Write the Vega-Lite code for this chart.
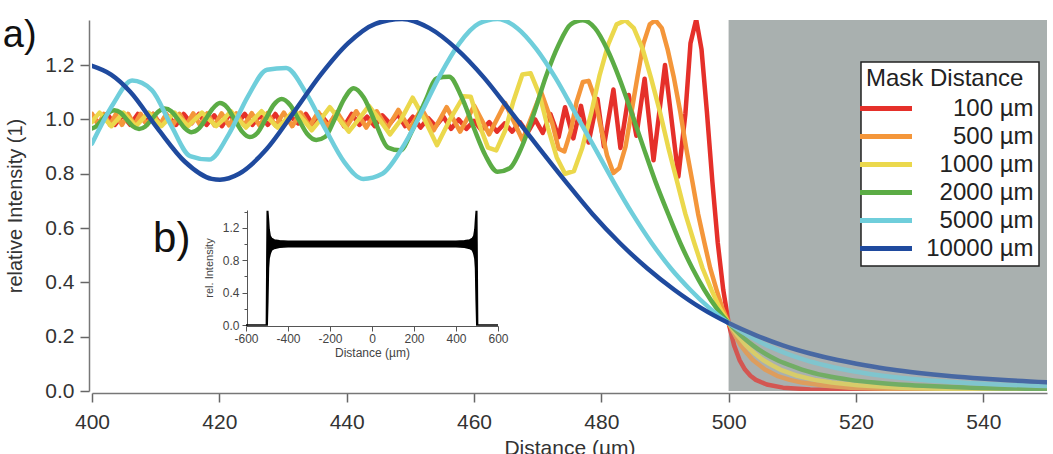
{
  "$schema": "https://vega.github.io/schema/vega-lite/v6.json",
  "width": 955,
  "height": 371,
  "autosize": {"type": "none"},
  "padding": {"left": 92, "top": 20, "right": 6, "bottom": 63},
  "background": "white",
  "datasets": {
    "mask": [{"start": 500, "end": 550}],
    "curves": [
      {"mask":"100 µm","dist":400,"int":1.01},{"mask":"100 µm","dist":401.2,"int":0.985},{"mask":"100 µm","dist":402.4,"int":1.02},{"mask":"100 µm","dist":403.6,"int":0.98},{"mask":"100 µm","dist":404.8,"int":1.015},{"mask":"100 µm","dist":406,"int":0.98},{"mask":"100 µm","dist":407.2,"int":1.02},{"mask":"100 µm","dist":408.4,"int":0.99},{"mask":"100 µm","dist":409.6,"int":1.02},{"mask":"100 µm","dist":410.8,"int":0.98},{"mask":"100 µm","dist":412,"int":1.01},{"mask":"100 µm","dist":413.2,"int":0.98},{"mask":"100 µm","dist":414.4,"int":1.02},{"mask":"100 µm","dist":415.6,"int":0.985},{"mask":"100 µm","dist":416.8,"int":1.02},{"mask":"100 µm","dist":418,"int":0.98},{"mask":"100 µm","dist":419.2,"int":1.015},{"mask":"100 µm","dist":420.4,"int":0.975},{"mask":"100 µm","dist":421.6,"int":1.02},{"mask":"100 µm","dist":422.8,"int":0.985},{"mask":"100 µm","dist":424,"int":1.02},{"mask":"100 µm","dist":425.2,"int":0.98},{"mask":"100 µm","dist":426.4,"int":1.015},{"mask":"100 µm","dist":427.6,"int":0.98},{"mask":"100 µm","dist":428.8,"int":1.02},{"mask":"100 µm","dist":430,"int":0.975},{"mask":"100 µm","dist":431.2,"int":1.01},{"mask":"100 µm","dist":432.4,"int":0.985},{"mask":"100 µm","dist":433.6,"int":1.02},{"mask":"100 µm","dist":434.8,"int":0.975},{"mask":"100 µm","dist":436,"int":1.015},{"mask":"100 µm","dist":437.2,"int":0.98},{"mask":"100 µm","dist":438.4,"int":1.02},{"mask":"100 µm","dist":439.6,"int":0.975},{"mask":"100 µm","dist":440.8,"int":1.02},{"mask":"100 µm","dist":442,"int":0.98},{"mask":"100 µm","dist":443.2,"int":1.01},{"mask":"100 µm","dist":444.4,"int":0.975},{"mask":"100 µm","dist":445.6,"int":1.015},{"mask":"100 µm","dist":446.8,"int":0.985},{"mask":"100 µm","dist":448,"int":1.02},{"mask":"100 µm","dist":449.2,"int":0.975},{"mask":"100 µm","dist":450.4,"int":1.01},{"mask":"100 µm","dist":451.6,"int":0.97},{"mask":"100 µm","dist":452.8,"int":1.005},{"mask":"100 µm","dist":454,"int":0.975},{"mask":"100 µm","dist":455.2,"int":1.01},{"mask":"100 µm","dist":456.4,"int":0.965},{"mask":"100 µm","dist":457.6,"int":1.0},{"mask":"100 µm","dist":458.8,"int":0.965},{"mask":"100 µm","dist":460,"int":0.995},{"mask":"100 µm","dist":461.2,"int":0.96},{"mask":"100 µm","dist":462.4,"int":0.99},{"mask":"100 µm","dist":463.6,"int":0.955},{"mask":"100 µm","dist":464.8,"int":0.985},{"mask":"100 µm","dist":466,"int":0.955},{"mask":"100 µm","dist":467.2,"int":0.99},{"mask":"100 µm","dist":468.4,"int":0.95},{"mask":"100 µm","dist":469.6,"int":1.0},{"mask":"100 µm","dist":470.8,"int":0.95},{"mask":"100 µm","dist":472,"int":1.02},{"mask":"100 µm","dist":473.3,"int":0.935},{"mask":"100 µm","dist":474.3,"int":1.045},{"mask":"100 µm","dist":475.6,"int":0.93},{"mask":"100 µm","dist":476.8,"int":1.05},{"mask":"100 µm","dist":478,"int":0.915},{"mask":"100 µm","dist":479.4,"int":1.075},{"mask":"100 µm","dist":480.4,"int":0.9},{"mask":"100 µm","dist":481.9,"int":1.11},{"mask":"100 µm","dist":483,"int":0.895},{"mask":"100 µm","dist":484.3,"int":1.09},{"mask":"100 µm","dist":485.5,"int":0.94},{"mask":"100 µm","dist":486.8,"int":1.15},{"mask":"100 µm","dist":488.2,"int":0.85},{"mask":"100 µm","dist":490,"int":1.2},{"mask":"100 µm","dist":492.1,"int":0.79},{"mask":"100 µm","dist":493.2,"int":1.02},{"mask":"100 µm","dist":494,"int":1.28},{"mask":"100 µm","dist":494.9,"int":1.368},{"mask":"100 µm","dist":495.73,"int":1.259},{"mask":"100 µm","dist":496.58,"int":1.028},{"mask":"100 µm","dist":497.44,"int":0.771},{"mask":"100 µm","dist":498.29,"int":0.545},{"mask":"100 µm","dist":499.15,"int":0.372},{"mask":"100 µm","dist":500,"int":0.25},{"mask":"100 µm","dist":500.85,"int":0.168},{"mask":"100 µm","dist":501.71,"int":0.114},{"mask":"100 µm","dist":502.56,"int":0.079},{"mask":"100 µm","dist":503.42,"int":0.056},{"mask":"100 µm","dist":504.27,"int":0.041},{"mask":"100 µm","dist":505.98,"int":0.024},{"mask":"100 µm","dist":508.54,"int":0.0123},{"mask":"100 µm","dist":512.82,"int":0.0056},{"mask":"100 µm","dist":517.09,"int":0.0032},{"mask":"100 µm","dist":525.6,"int":0.0014},{"mask":"100 µm","dist":550,"int":0.0004},

      {"mask":"500 µm","dist":400,"int":1.02},{"mask":"500 µm","dist":400.96,"int":0.98},{"mask":"500 µm","dist":401.88,"int":1.02},{"mask":"500 µm","dist":402.82,"int":0.98},{"mask":"500 µm","dist":403.76,"int":1.02},{"mask":"500 µm","dist":404.71,"int":0.98},{"mask":"500 µm","dist":405.68,"int":1.02},{"mask":"500 µm","dist":406.65,"int":0.98},{"mask":"500 µm","dist":407.63,"int":1.02},{"mask":"500 µm","dist":408.62,"int":0.98},{"mask":"500 µm","dist":409.63,"int":1.02},{"mask":"500 µm","dist":410.64,"int":0.98},{"mask":"500 µm","dist":411.67,"int":1.02},{"mask":"500 µm","dist":412.71,"int":0.98},{"mask":"500 µm","dist":413.76,"int":1.02},{"mask":"500 µm","dist":414.83,"int":0.98},{"mask":"500 µm","dist":415.9,"int":1.022},{"mask":"500 µm","dist":417,"int":0.978},{"mask":"500 µm","dist":418.1,"int":1.022},{"mask":"500 µm","dist":419.23,"int":0.978},{"mask":"500 µm","dist":420.36,"int":1.022},{"mask":"500 µm","dist":421.52,"int":0.978},{"mask":"500 µm","dist":422.69,"int":1.022},{"mask":"500 µm","dist":423.88,"int":0.978},{"mask":"500 µm","dist":425.09,"int":1.023},{"mask":"500 µm","dist":426.32,"int":0.977},{"mask":"500 µm","dist":427.56,"int":1.023},{"mask":"500 µm","dist":428.84,"int":0.977},{"mask":"500 µm","dist":430.13,"int":1.025},{"mask":"500 µm","dist":431.45,"int":0.975},{"mask":"500 µm","dist":432.79,"int":1.025},{"mask":"500 µm","dist":434.16,"int":0.975},{"mask":"500 µm","dist":435.56,"int":1.027},{"mask":"500 µm","dist":437,"int":0.973},{"mask":"500 µm","dist":438.46,"int":1.027},{"mask":"500 µm","dist":439.96,"int":0.972},{"mask":"500 µm","dist":441.5,"int":1.03},{"mask":"500 µm","dist":443.08,"int":0.97},{"mask":"500 µm","dist":444.71,"int":1.03},{"mask":"500 µm","dist":446.39,"int":0.967},{"mask":"500 µm","dist":448.12,"int":1.035},{"mask":"500 µm","dist":449.91,"int":0.965},{"mask":"500 µm","dist":451.76,"int":1.04},{"mask":"500 µm","dist":453.69,"int":0.96},{"mask":"500 µm","dist":455.71,"int":1.045},{"mask":"500 µm","dist":457.82,"int":0.955},{"mask":"500 µm","dist":460.04,"int":1.05},{"mask":"500 µm","dist":462.39,"int":0.945},{"mask":"500 µm","dist":464.9,"int":1.06},{"mask":"500 µm","dist":467.61,"int":0.924},{"mask":"500 µm","dist":470.56,"int":1.1},{"mask":"500 µm","dist":472.3,"int":0.985},{"mask":"500 µm","dist":473.3,"int":0.892},{"mask":"500 µm","dist":474.2,"int":0.882},{"mask":"500 µm","dist":475.2,"int":0.957},{"mask":"500 µm","dist":476.1,"int":1.063},{"mask":"500 µm","dist":477.1,"int":1.138},{"mask":"500 µm","dist":478,"int":1.142},{"mask":"500 µm","dist":479,"int":1.077},{"mask":"500 µm","dist":479.9,"int":0.974},{"mask":"500 µm","dist":480.9,"int":0.867},{"mask":"500 µm","dist":481.9,"int":0.803},{"mask":"500 µm","dist":482.8,"int":0.82},{"mask":"500 µm","dist":483.8,"int":0.9},{"mask":"500 µm","dist":484.7,"int":1.022},{"mask":"500 µm","dist":485.7,"int":1.16},{"mask":"500 µm","dist":486.6,"int":1.278},{"mask":"500 µm","dist":487.6,"int":1.35},{"mask":"500 µm","dist":488.5,"int":1.365},{"mask":"500 µm","dist":489.5,"int":1.336},{"mask":"500 µm","dist":490.4,"int":1.259},{"mask":"500 µm","dist":491.4,"int":1.153},{"mask":"500 µm","dist":492.4,"int":1.028},{"mask":"500 µm","dist":493.3,"int":0.898},{"mask":"500 µm","dist":494.3,"int":0.771},{"mask":"500 µm","dist":495.2,"int":0.652},{"mask":"500 µm","dist":496.2,"int":0.545},{"mask":"500 µm","dist":497.1,"int":0.452},{"mask":"500 µm","dist":498.1,"int":0.372},{"mask":"500 µm","dist":499,"int":0.305},{"mask":"500 µm","dist":500,"int":0.25},{"mask":"500 µm","dist":501,"int":0.205},{"mask":"500 µm","dist":501.9,"int":0.168},{"mask":"500 µm","dist":502.9,"int":0.138},{"mask":"500 µm","dist":503.8,"int":0.114},{"mask":"500 µm","dist":505.7,"int":0.079},{"mask":"500 µm","dist":507.6,"int":0.056},{"mask":"500 µm","dist":509.6,"int":0.041},{"mask":"500 µm","dist":511.5,"int":0.031},{"mask":"500 µm","dist":515.3,"int":0.019},{"mask":"500 µm","dist":519.1,"int":0.0123},{"mask":"500 µm","dist":528.7,"int":0.0056},{"mask":"500 µm","dist":538.2,"int":0.0032},{"mask":"500 µm","dist":550,"int":0.0019},

      {"mask":"1000 µm","dist":400,"int":0.99},{"mask":"1000 µm","dist":400.27,"int":1.0},{"mask":"1000 µm","dist":401.19,"int":1.025},{"mask":"1000 µm","dist":402.12,"int":1.0},{"mask":"1000 µm","dist":403.05,"int":0.975},{"mask":"1000 µm","dist":404,"int":1.0},{"mask":"1000 µm","dist":404.95,"int":1.025},{"mask":"1000 µm","dist":405.92,"int":1.0},{"mask":"1000 µm","dist":406.89,"int":0.975},{"mask":"1000 µm","dist":407.88,"int":1.0},{"mask":"1000 µm","dist":408.88,"int":1.025},{"mask":"1000 µm","dist":409.88,"int":1.0},{"mask":"1000 µm","dist":410.9,"int":0.975},{"mask":"1000 µm","dist":411.93,"int":1.0},{"mask":"1000 µm","dist":412.97,"int":1.025},{"mask":"1000 µm","dist":414.03,"int":1.0},{"mask":"1000 µm","dist":415.1,"int":0.975},{"mask":"1000 µm","dist":416.18,"int":1.0},{"mask":"1000 µm","dist":417.27,"int":1.025},{"mask":"1000 µm","dist":418.38,"int":1.0},{"mask":"1000 µm","dist":419.51,"int":0.975},{"mask":"1000 µm","dist":420.65,"int":1.0},{"mask":"1000 µm","dist":421.81,"int":1.03},{"mask":"1000 µm","dist":422.99,"int":1.0},{"mask":"1000 µm","dist":424.18,"int":0.97},{"mask":"1000 µm","dist":425.39,"int":1.0},{"mask":"1000 µm","dist":426.63,"int":1.03},{"mask":"1000 µm","dist":427.88,"int":1.0},{"mask":"1000 µm","dist":429.16,"int":0.97},{"mask":"1000 µm","dist":430.46,"int":1.0},{"mask":"1000 µm","dist":431.78,"int":1.035},{"mask":"1000 µm","dist":433.13,"int":1.0},{"mask":"1000 µm","dist":434.51,"int":0.96},{"mask":"1000 µm","dist":435.92,"int":1.0},{"mask":"1000 µm","dist":437.36,"int":1.045},{"mask":"1000 µm","dist":438.83,"int":1.0},{"mask":"1000 µm","dist":440.34,"int":0.955},{"mask":"1000 µm","dist":441.89,"int":1.0},{"mask":"1000 µm","dist":443.49,"int":1.05},{"mask":"1000 µm","dist":445.13,"int":1.0},{"mask":"1000 µm","dist":446.81,"int":0.945},{"mask":"1000 µm","dist":448.56,"int":1.0},{"mask":"1000 µm","dist":450.36,"int":1.08},{"mask":"1000 µm","dist":452.24,"int":1.0},{"mask":"1000 µm","dist":454.19,"int":0.905},{"mask":"1000 µm","dist":456.23,"int":1.0},{"mask":"1000 µm","dist":458.36,"int":1.085},{"mask":"1000 µm","dist":459.5,"int":1.083},{"mask":"1000 µm","dist":460.8,"int":0.983},{"mask":"1000 µm","dist":462.2,"int":0.896},{"mask":"1000 µm","dist":463.5,"int":0.886},{"mask":"1000 µm","dist":464.9,"int":0.959},{"mask":"1000 µm","dist":466.2,"int":1.068},{"mask":"1000 µm","dist":467.6,"int":1.165},{"mask":"1000 µm","dist":468.9,"int":1.17},{"mask":"1000 µm","dist":470.3,"int":1.09},{"mask":"1000 µm","dist":471.6,"int":0.97},{"mask":"1000 µm","dist":473,"int":0.86},{"mask":"1000 µm","dist":474.3,"int":0.8},{"mask":"1000 µm","dist":475.7,"int":0.81},{"mask":"1000 µm","dist":477,"int":0.895},{"mask":"1000 µm","dist":478.4,"int":1.022},{"mask":"1000 µm","dist":479.7,"int":1.16},{"mask":"1000 µm","dist":481.1,"int":1.277},{"mask":"1000 µm","dist":482.4,"int":1.35},{"mask":"1000 µm","dist":483.8,"int":1.365},{"mask":"1000 µm","dist":485.1,"int":1.336},{"mask":"1000 µm","dist":486.5,"int":1.259},{"mask":"1000 µm","dist":487.8,"int":1.153},{"mask":"1000 µm","dist":489.2,"int":1.028},{"mask":"1000 µm","dist":490.5,"int":0.898},{"mask":"1000 µm","dist":491.9,"int":0.771},{"mask":"1000 µm","dist":493.2,"int":0.652},{"mask":"1000 µm","dist":494.6,"int":0.545},{"mask":"1000 µm","dist":495.9,"int":0.452},{"mask":"1000 µm","dist":497.3,"int":0.372},{"mask":"1000 µm","dist":498.6,"int":0.305},{"mask":"1000 µm","dist":500,"int":0.25},{"mask":"1000 µm","dist":501.4,"int":0.205},{"mask":"1000 µm","dist":502.7,"int":0.168},{"mask":"1000 µm","dist":504.1,"int":0.138},{"mask":"1000 µm","dist":505.4,"int":0.114},{"mask":"1000 µm","dist":506.8,"int":0.095},{"mask":"1000 µm","dist":508.1,"int":0.079},{"mask":"1000 µm","dist":510.8,"int":0.056},{"mask":"1000 µm","dist":513.5,"int":0.041},{"mask":"1000 µm","dist":516.2,"int":0.031},{"mask":"1000 µm","dist":520.3,"int":0.021},{"mask":"1000 µm","dist":527,"int":0.0123},{"mask":"1000 µm","dist":533.8,"int":0.0081},{"mask":"1000 µm","dist":540.5,"int":0.0056},{"mask":"1000 µm","dist":550,"int":0.0037},

      {"mask":"2000 µm","dist":400,"int":0.967},{"mask":"2000 µm","dist":400.73,"int":0.976},{"mask":"2000 µm","dist":401.65,"int":1.0},{"mask":"2000 µm","dist":402.58,"int":1.024},{"mask":"2000 µm","dist":403.52,"int":1.034},{"mask":"2000 µm","dist":404.48,"int":1.025},{"mask":"2000 µm","dist":405.44,"int":1.0},{"mask":"2000 µm","dist":406.41,"int":0.975},{"mask":"2000 µm","dist":407.39,"int":0.965},{"mask":"2000 µm","dist":408.38,"int":0.974},{"mask":"2000 µm","dist":409.38,"int":1.0},{"mask":"2000 µm","dist":410.39,"int":1.028},{"mask":"2000 µm","dist":411.41,"int":1.04},{"mask":"2000 µm","dist":412.45,"int":1.03},{"mask":"2000 µm","dist":413.5,"int":1.0},{"mask":"2000 µm","dist":414.56,"int":0.968},{"mask":"2000 µm","dist":415.63,"int":0.953},{"mask":"2000 µm","dist":416.72,"int":0.965},{"mask":"2000 µm","dist":417.83,"int":1.0},{"mask":"2000 µm","dist":418.94,"int":1.039},{"mask":"2000 µm","dist":420.08,"int":1.06},{"mask":"2000 µm","dist":421.23,"int":1.044},{"mask":"2000 µm","dist":422.39,"int":1.0},{"mask":"2000 µm","dist":423.58,"int":0.955},{"mask":"2000 µm","dist":424.78,"int":0.935},{"mask":"2000 µm","dist":426.01,"int":0.951},{"mask":"2000 µm","dist":427.25,"int":1.0},{"mask":"2000 µm","dist":428.52,"int":1.053},{"mask":"2000 µm","dist":429.8,"int":1.075},{"mask":"2000 µm","dist":431.12,"int":1.053},{"mask":"2000 µm","dist":432.45,"int":1.0},{"mask":"2000 µm","dist":433.82,"int":0.946},{"mask":"2000 µm","dist":435.21,"int":0.924},{"mask":"2000 µm","dist":436.64,"int":0.936},{"mask":"2000 µm","dist":438.09,"int":1.0},{"mask":"2000 µm","dist":439.58,"int":1.074},{"mask":"2000 µm","dist":441.11,"int":1.115},{"mask":"2000 µm","dist":442.68,"int":1.081},{"mask":"2000 µm","dist":444.6,"int":0.983},{"mask":"2000 µm","dist":446.5,"int":0.896},{"mask":"2000 µm","dist":448.4,"int":0.886},{"mask":"2000 µm","dist":450.3,"int":0.959},{"mask":"2000 µm","dist":452.3,"int":1.065},{"mask":"2000 µm","dist":454.2,"int":1.152},{"mask":"2000 µm","dist":456.1,"int":1.157},{"mask":"2000 µm","dist":458,"int":1.085},{"mask":"2000 µm","dist":459.9,"int":0.973},{"mask":"2000 µm","dist":461.8,"int":0.867},{"mask":"2000 µm","dist":463.7,"int":0.807},{"mask":"2000 µm","dist":465.6,"int":0.82},{"mask":"2000 µm","dist":467.5,"int":0.899},{"mask":"2000 µm","dist":469.4,"int":1.021},{"mask":"2000 µm","dist":471.3,"int":1.158},{"mask":"2000 µm","dist":473.3,"int":1.275},{"mask":"2000 µm","dist":475.2,"int":1.35},{"mask":"2000 µm","dist":477.1,"int":1.365},{"mask":"2000 µm","dist":479,"int":1.336},{"mask":"2000 µm","dist":480.9,"int":1.259},{"mask":"2000 µm","dist":482.8,"int":1.153},{"mask":"2000 µm","dist":484.7,"int":1.028},{"mask":"2000 µm","dist":486.6,"int":0.898},{"mask":"2000 µm","dist":488.5,"int":0.771},{"mask":"2000 µm","dist":490.5,"int":0.652},{"mask":"2000 µm","dist":492.4,"int":0.545},{"mask":"2000 µm","dist":494.3,"int":0.452},{"mask":"2000 µm","dist":496.2,"int":0.372},{"mask":"2000 µm","dist":498.1,"int":0.305},{"mask":"2000 µm","dist":500,"int":0.25},{"mask":"2000 µm","dist":501.9,"int":0.205},{"mask":"2000 µm","dist":503.8,"int":0.168},{"mask":"2000 µm","dist":505.7,"int":0.138},{"mask":"2000 µm","dist":507.6,"int":0.114},{"mask":"2000 µm","dist":509.6,"int":0.095},{"mask":"2000 µm","dist":511.5,"int":0.079},{"mask":"2000 µm","dist":515.3,"int":0.056},{"mask":"2000 µm","dist":519.1,"int":0.041},{"mask":"2000 µm","dist":522.9,"int":0.031},{"mask":"2000 µm","dist":526.7,"int":0.024},{"mask":"2000 µm","dist":530.6,"int":0.019},{"mask":"2000 µm","dist":538.2,"int":0.0123},{"mask":"2000 µm","dist":547.8,"int":0.0081},{"mask":"2000 µm","dist":550,"int":0.0074},

      {"mask":"5000 µm","dist":400,"int":0.911},{"mask":"5000 µm","dist":403.3,"int":1.056},{"mask":"5000 µm","dist":406.3,"int":1.143},{"mask":"5000 µm","dist":409.4,"int":1.108},{"mask":"5000 µm","dist":412.4,"int":0.979},{"mask":"5000 µm","dist":415.4,"int":0.865},{"mask":"5000 µm","dist":418.4,"int":0.852},{"mask":"5000 µm","dist":421.5,"int":0.946},{"mask":"5000 µm","dist":424.5,"int":1.085},{"mask":"5000 µm","dist":427.5,"int":1.183},{"mask":"5000 µm","dist":430.5,"int":1.189},{"mask":"5000 µm","dist":433.5,"int":1.102},{"mask":"5000 µm","dist":436.6,"int":0.967},{"mask":"5000 µm","dist":439.6,"int":0.844},{"mask":"5000 µm","dist":442.6,"int":0.781},{"mask":"5000 µm","dist":445.6,"int":0.8},{"mask":"5000 µm","dist":448.6,"int":0.89},{"mask":"5000 µm","dist":451.7,"int":1.023},{"mask":"5000 µm","dist":454.7,"int":1.164},{"mask":"5000 µm","dist":457.7,"int":1.28},{"mask":"5000 µm","dist":460.7,"int":1.352},{"mask":"5000 µm","dist":463.7,"int":1.37},{"mask":"5000 µm","dist":466.8,"int":1.336},{"mask":"5000 µm","dist":469.8,"int":1.259},{"mask":"5000 µm","dist":472.8,"int":1.153},{"mask":"5000 µm","dist":475.8,"int":1.028},{"mask":"5000 µm","dist":478.9,"int":0.898},{"mask":"5000 µm","dist":481.9,"int":0.771},{"mask":"5000 µm","dist":484.9,"int":0.652},{"mask":"5000 µm","dist":487.9,"int":0.545},{"mask":"5000 µm","dist":490.9,"int":0.452},{"mask":"5000 µm","dist":494,"int":0.372},{"mask":"5000 µm","dist":497,"int":0.305},{"mask":"5000 µm","dist":500,"int":0.25},{"mask":"5000 µm","dist":503,"int":0.205},{"mask":"5000 µm","dist":506,"int":0.168},{"mask":"5000 µm","dist":509.1,"int":0.138},{"mask":"5000 µm","dist":512.1,"int":0.114},{"mask":"5000 µm","dist":515.1,"int":0.095},{"mask":"5000 µm","dist":518.1,"int":0.079},{"mask":"5000 µm","dist":524.2,"int":0.056},{"mask":"5000 µm","dist":530.2,"int":0.041},{"mask":"5000 µm","dist":536.3,"int":0.031},{"mask":"5000 µm","dist":542.3,"int":0.024},{"mask":"5000 µm","dist":548.3,"int":0.019},{"mask":"5000 µm","dist":550,"int":0.018},

      {"mask":"10000 µm","dist":400,"int":1.197},{"mask":"10000 µm","dist":403,"int":1.165},{"mask":"10000 µm","dist":406,"int":1.102},{"mask":"10000 µm","dist":410.3,"int":0.967},{"mask":"10000 µm","dist":414.6,"int":0.844},{"mask":"10000 µm","dist":418.8,"int":0.781},{"mask":"10000 µm","dist":420.1,"int":0.778},{"mask":"10000 µm","dist":423.1,"int":0.8},{"mask":"10000 µm","dist":427.4,"int":0.89},{"mask":"10000 µm","dist":431.6,"int":1.023},{"mask":"10000 µm","dist":435.9,"int":1.164},{"mask":"10000 µm","dist":440.2,"int":1.28},{"mask":"10000 µm","dist":444.5,"int":1.352},{"mask":"10000 µm","dist":448.7,"int":1.37},{"mask":"10000 µm","dist":453,"int":1.336},{"mask":"10000 µm","dist":457.3,"int":1.259},{"mask":"10000 µm","dist":461.6,"int":1.153},{"mask":"10000 µm","dist":465.8,"int":1.028},{"mask":"10000 µm","dist":470.1,"int":0.898},{"mask":"10000 µm","dist":474.4,"int":0.771},{"mask":"10000 µm","dist":478.6,"int":0.652},{"mask":"10000 µm","dist":482.9,"int":0.545},{"mask":"10000 µm","dist":487.2,"int":0.452},{"mask":"10000 µm","dist":491.5,"int":0.372},{"mask":"10000 µm","dist":495.7,"int":0.305},{"mask":"10000 µm","dist":500,"int":0.25},{"mask":"10000 µm","dist":504.3,"int":0.205},{"mask":"10000 µm","dist":508.5,"int":0.168},{"mask":"10000 µm","dist":512.8,"int":0.138},{"mask":"10000 µm","dist":517.1,"int":0.114},{"mask":"10000 µm","dist":521.4,"int":0.095},{"mask":"10000 µm","dist":525.6,"int":0.079},{"mask":"10000 µm","dist":529.9,"int":0.0665},{"mask":"10000 µm","dist":534.2,"int":0.056},{"mask":"10000 µm","dist":538.4,"int":0.048},{"mask":"10000 µm","dist":542.7,"int":0.041},{"mask":"10000 µm","dist":550,"int":0.032}
    ],
    "profile": [
      {"pos":-600,"lo":0,"hi":0},{"pos":-503,"lo":0,"hi":0},{"pos":-499,"lo":0,"hi":1.4},{"pos":-496,"lo":0.3,"hi":1.4},{"pos":-493,"lo":0.7,"hi":1.3},{"pos":-490,"lo":0.82,"hi":1.18},{"pos":-485,"lo":0.88,"hi":1.1},{"pos":-478,"lo":0.925,"hi":1.07},{"pos":-465,"lo":0.945,"hi":1.05},{"pos":-440,"lo":0.96,"hi":1.04},{"pos":-400,"lo":0.965,"hi":1.035},{"pos":0,"lo":0.965,"hi":1.035},{"pos":400,"lo":0.965,"hi":1.035},{"pos":440,"lo":0.96,"hi":1.04},{"pos":465,"lo":0.945,"hi":1.05},{"pos":478,"lo":0.925,"hi":1.07},{"pos":485,"lo":0.88,"hi":1.1},{"pos":490,"lo":0.82,"hi":1.18},{"pos":493,"lo":0.7,"hi":1.3},{"pos":496,"lo":0.3,"hi":1.4},{"pos":499,"lo":0,"hi":1.4},{"pos":503,"lo":0,"hi":0},{"pos":600,"lo":0,"hi":0}
    ]
  },
  "layer": [
    {
      "data": {"name": "mask"},
      "mark": {"type": "rect", "color": "#a9b0af"},
      "encoding": {
        "x": {"field": "start", "type": "quantitative", "scale": {"domain": [400, 550], "nice": false, "zero": false}, "axis": null},
        "x2": {"field": "end"}
      }
    },
    {
      "data": {"name": "curves"},
      "transform": [{"filter": {"field": "mask", "oneOf": ["100 µm", "500 µm", "1000 µm"]}}],
      "mark": {"type": "line", "strokeWidth": 4.5, "strokeJoin": "round", "strokeCap": "round", "clip": true},
      "encoding": {
        "x": {"field": "dist", "type": "quantitative", "scale": {"domain": [400, 550], "nice": false, "zero": false},
          "axis": {"orient": "bottom", "values": [400, 420, 440, 460, 480, 500, 520, 540], "offset": 2, "labelFontSize": 21, "labelColor": "#333", "labelPadding": 9, "tickSize": 9, "tickWidth": 1.5, "tickColor": "#666", "domainColor": "#777", "domainWidth": 1.5, "labelOverlap": false, "labelFlush": false, "title": "Distance (µm)", "titleFontSize": 21, "titleColor": "#333", "titlePadding": 5}},
        "y": {"field": "int", "type": "quantitative", "scale": {"domain": [0, 1.366], "nice": false, "zero": false},
          "axis": {"orient": "left", "values": [0, 0.2, 0.4, 0.6, 0.8, 1.0, 1.2], "format": ".1f", "offset": 3, "labelFontSize": 21, "labelColor": "#333", "labelPadding": 6, "tickSize": 9, "tickWidth": 1.5, "tickColor": "#666", "domainColor": "#777", "domainWidth": 1.5, "labelOverlap": false, "title": "relative Intensity (1)", "titleFontSize": 20, "titleColor": "#333", "titlePadding": 19}},
        "color": {"field": "mask", "type": "nominal",
          "scale": {"domain": ["100 µm", "500 µm", "1000 µm", "2000 µm", "5000 µm", "10000 µm"], "range": ["#e5302a", "#f4963a", "#ebd84c", "#5bac45", "#6fcedb", "#1f4a9e"]},
          "legend": {"title": "Mask Distance", "orient": "none", "legendX": 769, "legendY": 42, "padding": 5, "fillColor": "white", "strokeColor": "#222", "titleFontSize": 24, "titleFontWeight": "normal", "titleColor": "#222", "titlePadding": 5, "labelFontSize": 24, "labelColor": "#222", "labelAlign": "right", "labelOffset": 135, "symbolType": "M-2.6,0H2.6", "symbolSize": 400, "symbolStrokeWidth": 5, "symbolOffset": 7.5, "rowPadding": 3, "labelLimit": 300}}
      }
    },
    {
      "data": {"name": "curves"},
      "transform": [{"filter": {"field": "mask", "oneOf": ["2000 µm", "5000 µm", "10000 µm"]}}],
      "mark": {"type": "line", "strokeWidth": 4.5, "strokeJoin": "round", "strokeCap": "round", "interpolate": "monotone", "clip": true},
      "encoding": {
        "x": {"field": "dist", "type": "quantitative", "scale": {"domain": [400, 550], "nice": false, "zero": false}, "axis": null},
        "y": {"field": "int", "type": "quantitative", "scale": {"domain": [0, 1.366], "nice": false, "zero": false}, "axis": null},
        "color": {"field": "mask", "type": "nominal",
          "scale": {"domain": ["100 µm", "500 µm", "1000 µm", "2000 µm", "5000 µm", "10000 µm"], "range": ["#e5302a", "#f4963a", "#ebd84c", "#5bac45", "#6fcedb", "#1f4a9e"]},
          "legend": {"title": "Mask Distance", "orient": "none", "legendX": 769, "legendY": 42, "padding": 5, "fillColor": "white", "strokeColor": "#222", "titleFontSize": 24, "titleFontWeight": "normal", "titleColor": "#222", "titlePadding": 5, "labelFontSize": 24, "labelColor": "#222", "labelAlign": "right", "labelOffset": 135, "symbolType": "M-2.6,0H2.6", "symbolSize": 400, "symbolStrokeWidth": 5, "symbolOffset": 7.5, "rowPadding": 3, "labelLimit": 300}}
      }
    },
    {
      "data": {"name": "mask"},
      "mark": {"type": "rect", "color": "#a9b0af", "opacity": 0.3},
      "encoding": {
        "x": {"field": "start", "type": "quantitative", "scale": {"domain": [400, 550], "nice": false, "zero": false}, "axis": null},
        "x2": {"field": "end"}
      }
    },
    {
      "data": {"values": [{"label": "a)", "dist": 386, "int": 1.266}]},
      "mark": {"type": "text", "align": "left", "baseline": "alphabetic", "fontSize": 38, "color": "#111"},
      "encoding": {
        "x": {"field": "dist", "type": "quantitative", "scale": {"domain": [400, 550], "nice": false, "zero": false}, "axis": null},
        "y": {"field": "int", "type": "quantitative", "scale": {"domain": [0, 1.366], "nice": false, "zero": false}, "axis": null},
        "text": {"field": "label"}
      }
    },
    {
      "data": {"values": [{"label": "b)", "dist": 409.6, "int": 0.512}]},
      "mark": {"type": "text", "align": "left", "baseline": "alphabetic", "fontSize": 42, "color": "#111"},
      "encoding": {
        "x": {"field": "dist", "type": "quantitative", "scale": {"domain": [400, 550], "nice": false, "zero": false}, "axis": null},
        "y": {"field": "int", "type": "quantitative", "scale": {"domain": [0, 1.366], "nice": false, "zero": false}, "axis": null},
        "text": {"field": "label"}
      }
    },
    {
      "data": {"name": "profile"},
      "mark": {"type": "area", "color": "black", "stroke": "black", "strokeWidth": 1.5},
      "encoding": {
        "x": {"field": "pos", "type": "quantitative", "scale": {"domain": [-600, 600], "range": [154, 406], "nice": false, "zero": false},
          "axis": {"orient": "bottom", "offset": -65, "values": [-600, -400, -200, 0, 200, 400, 600], "labelExpr": "replace(datum.label, '\u2212', '-')", "labelFontSize": 12, "labelColor": "#444", "labelPadding": 2, "tickSize": 5, "tickColor": "#555", "domainColor": "#555", "labelOverlap": false, "labelFlush": false, "title": "Distance (µm)", "titleFontSize": 12, "titleColor": "#444", "titlePadding": 3}},
        "y": {"field": "lo", "type": "quantitative", "scale": {"domain": [0, 1.42], "range": [305, 190], "nice": false, "zero": false},
          "axis": {"orient": "left", "offset": -155, "values": [0, 0.2, 0.4, 0.6, 0.8, 1.0, 1.2, 1.4], "labelExpr": "indexof([0, 0.4, 0.8, 1.2], datum.value) >= 0 ? format(datum.value, '.1f') : ''", "tickSize": {"condition": {"test": "indexof([0, 0.4, 0.8, 1.2], datum.value) >= 0", "value": 5}, "value": 3}, "labelFontSize": 12, "labelColor": "#444", "labelPadding": 3, "tickColor": "#555", "domainColor": "#555", "labelOverlap": false, "labelFlush": false, "title": "rel. Intensity", "titleFontSize": 11, "titleColor": "#444", "titlePadding": 8}},
        "y2": {"field": "hi"}
      }
    }
  ],
  "resolve": {"scale": {"x": "independent", "y": "independent"}, "axis": {"x": "independent", "y": "independent"}},
  "config": {
    "font": "Liberation Sans",
    "view": {"stroke": null},
    "axis": {"grid": false, "labelFont": "Liberation Sans", "titleFont": "Liberation Sans", "titleFontWeight": "normal"},
    "legend": {"strokeWidth": 1.5, "labelFont": "Liberation Sans", "titleFont": "Liberation Sans"},
    "text": {"font": "Liberation Sans"}
  }
}
